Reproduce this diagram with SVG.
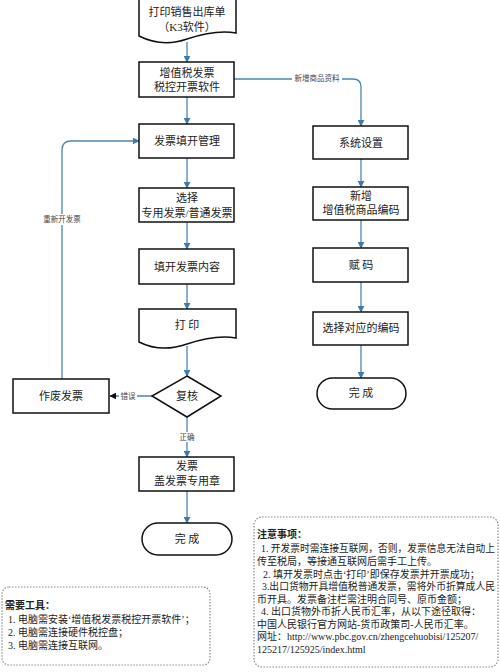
<svg xmlns="http://www.w3.org/2000/svg" width="500" height="672" viewBox="0 0 500 672">
<defs>
<marker id="ab" viewBox="0 0 10 10" refX="9" refY="5" markerWidth="7" markerHeight="7" orient="auto" markerUnits="userSpaceOnUse"><path d="M0,0 L10,5 L0,10 z" fill="#3d7bab"/></marker>
<marker id="ak" viewBox="0 0 10 10" refX="9" refY="5" markerWidth="7" markerHeight="7" orient="auto" markerUnits="userSpaceOnUse"><path d="M0,0 L10,5 L0,10 z" fill="#111"/></marker>
<style>
.n{fill:#fff;stroke:#111;stroke-width:1.5}
.t{font-family:"Liberation Serif","Noto Sans CJK SC",serif;font-size:11px;fill:#222;text-anchor:middle}
.s{font-family:"Liberation Serif","Noto Sans CJK SC",serif;font-size:7.5px;fill:#444;text-anchor:middle}
.c{fill:none;stroke:#4a86b4;stroke-width:1.3}
.note{fill:#fff;stroke:#888;stroke-width:1.2;stroke-dasharray:1.5 1.5}
.nt{font-family:"Liberation Serif","Noto Sans CJK SC",serif;font-size:10px;fill:#222}
.b{font-weight:bold}
.lb{fill:#fff}
</style>
</defs>
<rect width="500" height="672" fill="#fff"/>
<g id="connectors">
<path class="c" d="M187,42 V62" marker-end="url(#ab)"/>
<path class="c" d="M187,97 V124" marker-end="url(#ab)"/>
<path class="c" d="M187,158 V188" marker-end="url(#ab)"/>
<path class="c" d="M187,222 V249" marker-end="url(#ab)"/>
<path class="c" d="M187,284 V309" marker-end="url(#ab)"/>
<path class="c" d="M187,346 V376" marker-end="url(#ab)"/>
<path class="c" d="M187,417 V457" marker-end="url(#ab)"/>
<path class="c" d="M187,491 V523" marker-end="url(#ab)"/>
<path class="c" d="M234,79 H353 Q361,79 361,87 V126" marker-end="url(#ab)"/>
<path class="c" d="M361,159 V187" marker-end="url(#ab)"/>
<path class="c" d="M361,220 V248" marker-end="url(#ab)"/>
<path class="c" d="M361,282 V312" marker-end="url(#ab)"/>
<path class="c" d="M361,345 V378" marker-end="url(#ab)"/>
<path class="c" d="M62,379 V150 Q62,141 71,141 H139" marker-end="url(#ab)"/>
<path fill="none" stroke="#4a86b4" stroke-width="1.3" d="M152,396 H110" marker-end="url(#ak)"/>
<rect class="lb" x="292" y="73" width="50" height="11"/>
<text class="s" x="317" y="81">新增商品资料</text>
<rect class="lb" x="40" y="214" width="44" height="11"/>
<text class="s" x="62" y="222">重新开发票</text>
<rect class="lb" x="119" y="391" width="18" height="10"/>
<text class="s" x="128" y="399">错误</text>
<rect class="lb" x="178" y="432" width="18" height="10"/>
<text class="s" x="187" y="440">正确</text>
</g>
<g id="n_print_out">
<path class="n" d="M139,-1 H236 V33 C220,30 205,33 187,39 C170,45 155,44 139,36 Z"/>
<text class="t" x="187" y="16">打印销售出库单</text>
<text class="t" x="187" y="31">（K3软件）</text>
</g>
<g id="n_vat"><rect class="n" x="139" y="62" width="95" height="35"/><text class="t" x="187" y="77">增值税发票</text><text class="t" x="187" y="91">税控开票软件</text></g>
<g id="n_manage"><rect class="n" x="139" y="124" width="95" height="34"/><text class="t" x="187" y="145">发票填开管理</text></g>
<g id="n_select"><rect class="n" x="139" y="188" width="95" height="34"/><text class="t" x="187" y="202">选择</text><text class="t" x="187" y="217">专用发票/普通发票</text></g>
<g id="n_fill"><rect class="n" x="139" y="249" width="95" height="35"/><text class="t" x="187" y="271">填开发票内容</text></g>
<g id="n_print"><path class="n" d="M139,309 H236 V338 C220,335 205,338 187,344 C170,350 155,350 139,342 Z"/><text class="t" x="187" y="329">打 印</text></g>
<g id="n_check"><path class="n" d="M187,376 L221,396 L187,417 L152,396 Z"/><text class="t" x="187" y="400">复核</text></g>
<g id="n_void"><rect class="n" x="13" y="379" width="96" height="34"/><text class="t" x="61" y="400">作废发票</text></g>
<g id="n_stamp"><rect class="n" x="139" y="457" width="95" height="34"/><text class="t" x="187" y="470">发票</text><text class="t" x="187" y="485">盖发票专用章</text></g>
<g id="n_done1"><rect class="n" x="142" y="523" width="90" height="32" rx="16"/><text class="t" x="187" y="543">完 成</text></g>
<g id="n_sys"><rect class="n" x="313" y="126" width="95" height="33"/><text class="t" x="361" y="147">系统设置</text></g>
<g id="n_new"><rect class="n" x="313" y="187" width="95" height="33"/><text class="t" x="361" y="200">新增</text><text class="t" x="361" y="214">增值税商品编码</text></g>
<g id="n_code"><rect class="n" x="313" y="248" width="95" height="34"/><text class="t" x="361" y="269">赋 码</text></g>
<g id="n_choose"><rect class="n" x="313" y="312" width="95" height="33"/><text class="t" x="361" y="332">选择对应的编码</text></g>
<g id="n_done2"><rect class="n" x="317" y="378" width="89" height="31" rx="15.5"/><text class="t" x="361" y="397">完 成</text></g>
<g id="note_right">
<rect class="note" x="254" y="517" width="244" height="150" rx="8"/>
<text class="nt b" x="257" y="538">注意事项：</text>
<text class="nt" x="261" y="552" textLength="234" lengthAdjust="spacingAndGlyphs">1. 开发票时需连接互联网，否则，发票信息无法自动上</text>
<text class="nt" x="257" y="565">传至税局，等接通互联网后需手工上传。</text>
<text class="nt" x="263" y="578">2. 填开发票时点击‘打印’即保存发票并开票成功；</text>
<text class="nt" x="262" y="590" textLength="233" lengthAdjust="spacingAndGlyphs">3.出口货物开具增值税普通发票，需将外币折算成人民</text>
<text class="nt" x="257" y="603">币开具。发票备注栏需注明合同号、原币金额；</text>
<text class="nt" x="261" y="615">4. 出口货物外币折人民币汇率，从以下途径取得：</text>
<text class="nt" x="257" y="628">中国人民银行官方网站-货币政策司-人民币汇率。</text>
<text class="nt" x="257" y="640">网址：http://www.pbc.gov.cn/zhengcehuobisi/125207/</text>
<text class="nt" x="257" y="653">125217/125925/index.html</text>
</g>
<g id="note_left">
<rect class="note" x="2" y="587" width="208" height="78" rx="7"/>
<text class="nt b" x="5" y="609">需要工具：</text>
<text class="nt" x="8" y="623">1. 电脑需安装‘增值税发票税控开票软件’；</text>
<text class="nt" x="8" y="636">2. 电脑需连接硬件税控盘；</text>
<text class="nt" x="8" y="649">3. 电脑需连接互联网。</text>
</g>
</svg>
